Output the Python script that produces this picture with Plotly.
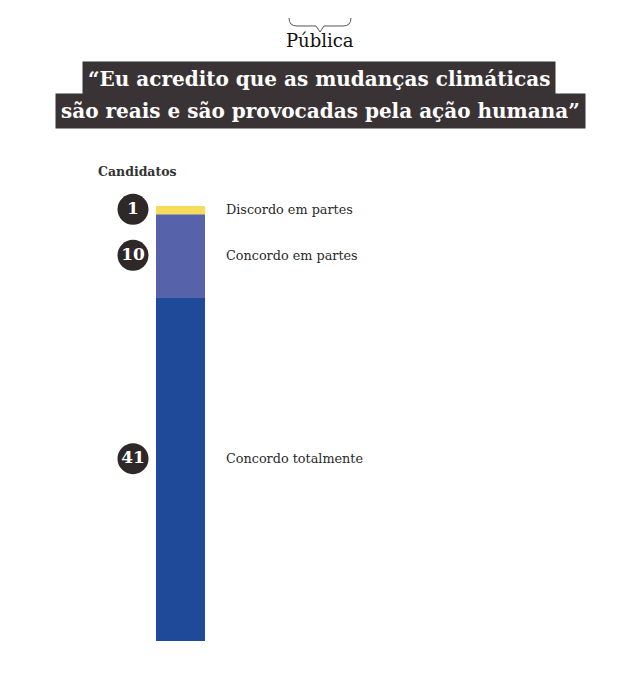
import plotly.graph_objects as go

# Data
categories = ["Concordo totalmente", "Concordo em partes", "Discordo em partes"]
values = [41, 10, 1]
colors = ["#1f4a9a", "#5663ab", "#f7dc5a"]

title_lines = ["“Eu acredito que as mudanças climáticas",
               "são reais e são provocadas pela ação humana”"]

OFF = 8  # page body margin
W, H = 640 - OFF, 678 - OFF
top_px, bot_px = 206 - OFF, 641 - OFF

fig = go.Figure()

base = 0
mids = []
for cat, v, c in zip(categories, values, colors):
    fig.add_trace(go.Bar(x=[180.5 - OFF], y=[v], base=[base], width=49,
                         marker=dict(color=c, line=dict(width=0)),
                         name=cat, showlegend=False, hoverinfo="skip"))
    mids.append(base + v / 2)
    base += v

total = base
label_y = [m + (1.3 if v > 20 else 0.1) for m, v in zip(mids, values)]

# number circles
fig.add_trace(go.Scatter(
    x=[133 - OFF] * len(values), y=label_y, mode="markers+text",
    marker=dict(size=31, color="#2e2829"),
    text=[f"<b>{v}</b>" for v in values], textposition="middle center",
    textfont=dict(family="DejaVu Serif", size=17, color="white"),
    cliponaxis=False, showlegend=False, hoverinfo="skip"))

# labels
for cat, m in zip(categories, label_y):
    fig.add_annotation(x=224 - OFF, y=m, xref="x", yref="y", text=cat, showarrow=False,
                       xanchor="left", yanchor="middle",
                       font=dict(family="DejaVu Serif", size=12.8, color="#2a2a2a"))

def py(p):
    return (bot_px - (p - OFF)) / (bot_px - top_px)

def px(p):
    return (p - OFF) / W

# title boxes
fig.add_annotation(x=px(319), y=py(79), xref="paper", yref="paper",
                   text="<b>" + title_lines[0] + "</b>",
                   showarrow=False, xanchor="center", yanchor="middle", bgcolor="#3a3335",
                   borderpad=5, font=dict(family="DejaVu Serif", size=20, color="white"))
fig.add_annotation(x=px(320), y=py(111.5), xref="paper", yref="paper",
                   text="<b>" + title_lines[1] + "</b>",
                   showarrow=False, xanchor="center", yanchor="middle", bgcolor="#3a3335",
                   borderpad=5, font=dict(family="DejaVu Serif", size=20, color="white"))

# Candidatos
fig.add_annotation(x=px(96), y=py(171), xref="paper", yref="paper", text="<b>Candidatos</b>",
                   showarrow=False, xanchor="left", yanchor="middle",
                   font=dict(family="DejaVu Serif", size=12.5, color="#333333"))

# logo
fig.add_annotation(x=px(320), y=py(41), xref="paper", yref="paper", text="Pública",
                   showarrow=False, xanchor="center", yanchor="middle",
                   font=dict(family="DejaVu Serif", size=18, color="#111111"))

def P(x, y):
    return f"{px(x):.4f},{py(y):.4f}"

path = ("M " + P(289, 18) + " Q " + P(289, 26) + " " + P(297, 26) + " L " + P(316, 26) +
        " L " + P(320, 32) + " L " + P(324, 26) + " L " + P(343, 26) +
        " Q " + P(351, 26) + " " + P(351, 18))
fig.add_shape(type="path", path=path, xref="paper", yref="paper",
              line=dict(color="#555555", width=1))

fig.update_layout(
    width=W, height=H, barmode="overlay",
    margin=dict(l=0, r=0, t=top_px, b=H - bot_px, pad=0),
    paper_bgcolor="white", plot_bgcolor="white",
    xaxis=dict(range=[0, W], visible=False, fixedrange=True),
    yaxis=dict(range=[0, total], visible=False, fixedrange=True),
)

fig.write_html("out.html")
